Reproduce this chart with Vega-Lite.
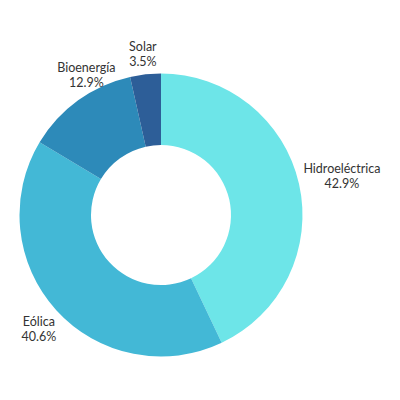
{
  "$schema": "https://vega.github.io/schema/vega-lite/v6.json",
  "autosize": "none",
  "width": 322,
  "height": 370,
  "padding": {"left": 0, "top": 30, "right": 78, "bottom": 0},
  "background": "white",
  "data": {
    "values": [
      {"fuente": "Hidroeléctrica", "pct": 42.9, "orden": 1},
      {"fuente": "Eólica", "pct": 40.6, "orden": 2},
      {"fuente": "Bioenergía", "pct": 12.9, "orden": 3},
      {"fuente": "Solar", "pct": 3.5, "orden": 4}
    ]
  },
  "transform": [
    {"stack": "pct", "groupby": [], "sort": [{"field": "orden", "order": "ascending"}], "as": ["t0", "t1"]},
    {"calculate": "(datum.t0 + datum.t1) / 2", "as": "tmid"},
    {"calculate": "datum.fuente + '\\n' + format(datum.pct, '.1f') + '%'", "as": "etiqueta"}
  ],
  "layer": [
    {
      "mark": {"type": "arc", "outerRadius": 141.5, "innerRadius": 70},
      "encoding": {
        "theta": {"field": "t0", "type": "quantitative", "scale": {"domain": [0, 99.9]}},
        "theta2": {"field": "t1"},
        "color": {
          "field": "fuente",
          "type": "nominal",
          "scale": {
            "domain": ["Hidroeléctrica", "Eólica", "Bioenergía", "Solar"],
            "range": ["#6de5e8", "#43b8d6", "#2d8ab9", "#2d5e98"]
          },
          "legend": null
        }
      }
    },
    {
      "transform": [{"filter": "datum.fuente == 'Hidroeléctrica'"}],
      "mark": {"type": "text", "radius": 165, "align": "center", "lineBreak": "\n", "font": "Lato", "fontSize": 12.5, "color": "#333333", "dx": 20, "dy": -10, "lineHeight": 15},
      "encoding": {
        "theta": {"field": "tmid", "type": "quantitative"},
        "text": {"field": "etiqueta"}
      }
    },
    {
      "transform": [{"filter": "datum.fuente == 'Bioenergía'"}],
      "mark": {"type": "text", "radius": 165, "align": "center", "lineBreak": "\n", "font": "Lato", "fontSize": 12.5, "color": "#333333", "dx": 22, "dy": -13, "lineHeight": 15},
      "encoding": {
        "theta": {"field": "tmid", "type": "quantitative"},
        "text": {"field": "etiqueta"}
      }
    },
    {
      "transform": [{"filter": "datum.fuente == 'Eólica' || datum.fuente == 'Solar'"}],
      "mark": {"type": "text", "radius": 165, "align": "center", "lineBreak": "\n", "font": "Lato", "fontSize": 12.5, "color": "#333333", "dy": -4, "lineHeight": 15},
      "encoding": {
        "theta": {"field": "tmid", "type": "quantitative"},
        "text": {"field": "etiqueta"}
      }
    }
  ]
}
